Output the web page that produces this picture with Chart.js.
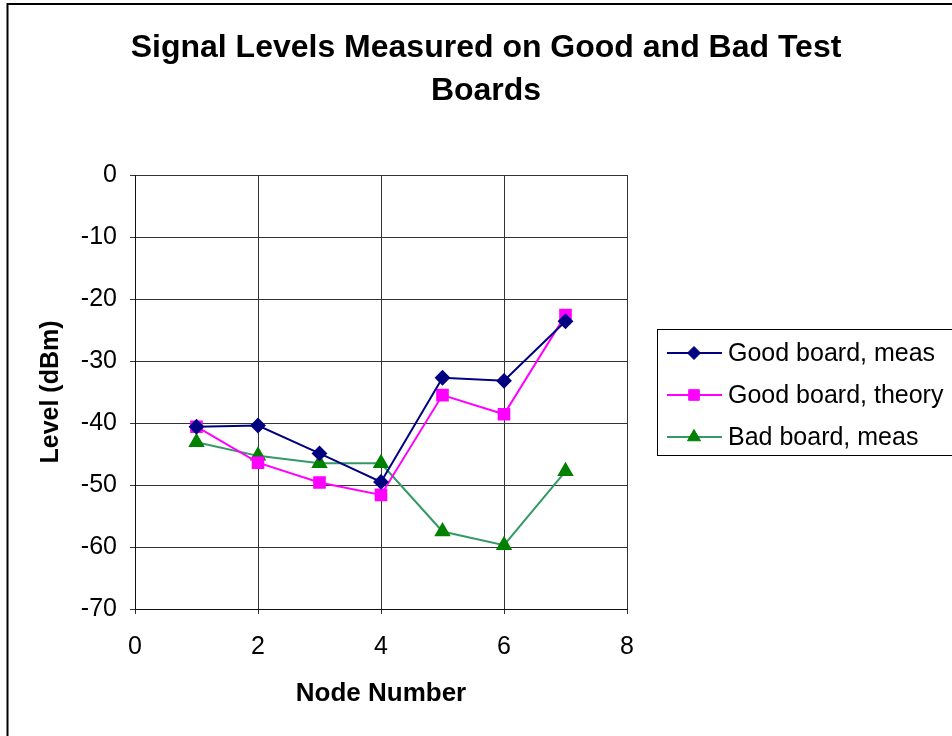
<!DOCTYPE html>
<html>
<head>
<meta charset="utf-8">
<script src="https://cdn.jsdelivr.net/npm/chart.js@4/dist/chart.umd.min.js"></script>
<style>
  html, body { margin: 0; padding: 0; background: #fff; }
  #wrap { width: 952px; height: 736px; }
</style>
</head>
<body>
<div id="wrap"><canvas id="signal_chart" width="952" height="736"></canvas></div>
<script>
// data
const nodes = [1, 2, 3, 4, 5, 6, 7];
const goodMeas = [-40.6, -40.4, -44.9, -49.5, -32.7, -33.2, -23.6];
const goodTheory = [-40.6, -46.4, -49.6, -51.6, -35.5, -38.6, -22.6];
const badMeas = [-43.1, -45.3, -46.5, -46.5, -57.5, -59.7, -47.8];
const seriesNames = ['Good board, meas', 'Good board, theory', 'Bad board, meas'];
const xTicks = [0, 2, 4, 6, 8];
const yTicks = [0, -10, -20, -30, -40, -50, -60, -70];

const FONT = '"Liberation Sans", Arial, sans-serif';

function pts(vals) {
    return nodes.map((n, i) => ({ x: n, y: vals[i] }));
}

// frame, title and legend box
const framePlugin = {
    id: 'frame',
    beforeDraw(chart) {
        const ctx = chart.ctx;
        ctx.save();
        ctx.fillStyle = '#fff';
        ctx.fillRect(0, 0, chart.width, chart.height);
        ctx.strokeStyle = '#000';
        ctx.lineWidth = 2;
        ctx.strokeRect(7.5, 4, 2000, 2000);
        ctx.restore();
    },
    afterDraw(chart) {
        const ctx = chart.ctx;
        ctx.save();
        ctx.fillStyle = '#000';
        ctx.font = 'bold 32px ' + FONT;
        ctx.textAlign = 'center';
        ctx.textBaseline = 'middle';
        ctx.fillText('Signal Levels Measured on Good and Bad Test', 486, 48);
        ctx.fillText('Boards', 486, 91);

        // legend
        ctx.fillStyle = '#fff';
        ctx.fillRect(657, 329, 400, 126);
        ctx.strokeStyle = '#000';
        ctx.lineWidth = 1;
        ctx.strokeRect(657.5, 329.5, 400, 126);
        const rows = [353, 395, 437];
        chart.data.datasets.forEach((ds, i) => {
            const y = rows[i];
            ctx.strokeStyle = ds.borderColor;
            ctx.lineWidth = 2;
            ctx.beginPath();
            ctx.moveTo(667, y);
            ctx.lineTo(722, y);
            ctx.stroke();
            ctx.fillStyle = ds.pointBackgroundColor;
            ctx.strokeStyle = ds.pointBorderColor;
            ctx.lineWidth = 1;
            Chart.helpers.drawPoint(ctx, {
                pointStyle: ds.pointStyle, radius: ds.pointRadius, rotation: 0, borderWidth: 1
            }, 694, y);
            ctx.fillStyle = '#000';
            ctx.font = '25px ' + FONT;
            ctx.textAlign = 'left';
            ctx.textBaseline = 'middle';
            ctx.fillText(ds.label, 728, y + 1);
        });
        ctx.restore();
    }
};

const sample = document.getElementById('signal_chart');
const myChart = new Chart(sample, {
    type: 'scatter',
    data: {
        datasets: [{
            label: seriesNames[0],
            data: pts(goodMeas),
            showLine: true,
            borderColor: '#000080',
            borderWidth: 2,
            pointStyle: 'rectRot',
            pointRadius: 6.5,
            pointBackgroundColor: '#000080',
            pointBorderColor: '#000080'
        }, {
            label: seriesNames[1],
            data: pts(goodTheory),
            showLine: true,
            borderColor: '#ff00ff',
            borderWidth: 2,
            pointStyle: 'rect',
            pointRadius: 7.5,
            pointBackgroundColor: '#ff00ff',
            pointBorderColor: '#ff00ff'
        }, {
            label: seriesNames[2],
            data: pts(badMeas),
            showLine: true,
            borderColor: '#339966',
            borderWidth: 2,
            pointStyle: 'triangle',
            pointRadius: 7.5,
            pointBackgroundColor: '#008000',
            pointBorderColor: '#008000'
        }]
    },
    options: {
        responsive: false,
        animation: false,
        layout: { padding: { left: 0, right: 325, top: 175, bottom: 0 } },
        plugins: {
            legend: { display: false },
            title: { display: false },
            tooltip: { enabled: false }
        },
        scales: {
            x: {
                type: 'linear',
                min: 0,
                max: 8,
                afterBuildTicks(scale) { scale.ticks = xTicks.map(v => ({ value: v })); },
                afterFit(scale) { scale.height = 127; },
                grid: { color: '#333', lineWidth: 1, tickLength: 5, tickColor: '#333' },
                border: { color: '#111', width: 1 },
                ticks: { color: '#000', font: { family: FONT, size: 25 }, padding: 18, maxRotation: 0 },
                title: {
                    display: true, text: 'Node Number', color: '#000',
                    font: { family: FONT, size: 26, weight: 'bold' },
                    padding: { top: 0, bottom: 27 }
                }
            },
            y: {
                type: 'linear',
                min: -70,
                max: 0,
                afterBuildTicks(scale) { scale.ticks = yTicks.map(v => ({ value: v })); },
                afterFit(scale) { scale.width = 135; },
                grid: { color: '#333', lineWidth: 1, tickLength: 5, tickColor: '#333' },
                border: { color: '#111', width: 1 },
                ticks: { color: '#000', font: { family: FONT, size: 25 }, padding: 13 },
                title: {
                    display: true, text: 'Level (dBm)', color: '#000',
                    font: { family: FONT, size: 25, weight: 'bold' },
                    padding: { top: 36, bottom: 0 }
                }
            }
        }
    },
    plugins: [framePlugin]
});
</script>
</body>
</html>
